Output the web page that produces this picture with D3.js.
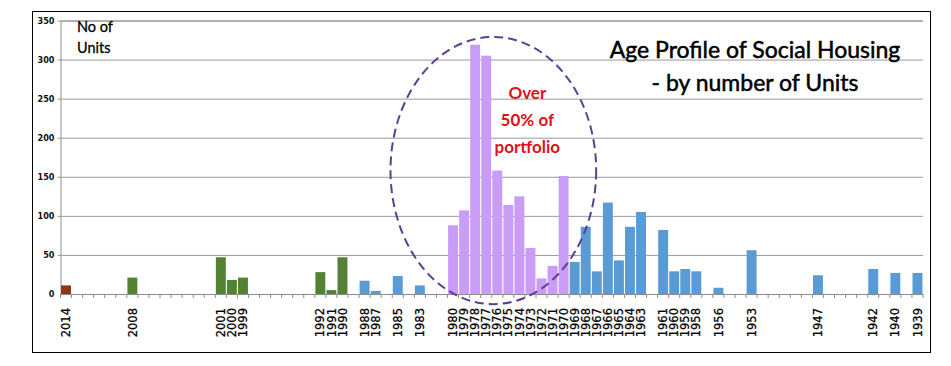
<!DOCTYPE html>
<html lang="en">
<head>
  <meta charset="UTF-8" />
  <title>Age Profile of Social Housing</title>
  <script src="https://d3js.org/d3.v7.min.js"></script>
  <style>
    * { margin: 0; padding: 0; box-sizing: border-box; }
    body { background: #fff; width: 951px; height: 366px; overflow: hidden; }
    svg { display: block; }
  </style>
</head>
<body>
  <svg id="chart" width="951" height="366"></svg>

  <script>
    // one slot per category on the axis; "" = empty category (no label, no bar)
    const slots = [
      '2014', '', '', '', '', '', '2008', '', '', '', '', '', '', '',
      '2001', '2000', '1999', '', '', '', '', '', '',
      '1992', '1991', '1990', '', '1988', '1987', '', '1985', '', '1983', '', '',
      '1980', '1979', '1978', '1977', '1976', '1975', '1974', '1973', '1972', '1971', '1970',
      '1969', '1968', '1967', '1966', '1965', '1964', '1963', '',
      '1961', '1960', '1959', '1958', '', '1956', '', '', '1953',
      '', '', '', '', '', '1947', '', '', '', '', '1942', '', '1940', '', '1939'
    ];

    const units = [
      11, 0, 0, 0, 0, 0, 21, 0, 0, 0, 0, 0, 0, 0,
      47, 18, 21, 0, 0, 0, 0, 0, 0,
      28, 5, 47, 0, 17, 4, 0, 23, 0, 11, 0, 0,
      88, 107, 319, 305, 158, 114, 125, 59, 20, 36, 151,
      41, 86, 29, 117, 43, 86, 105, 0,
      82, 29, 32, 29, 0, 8, 0, 0, 56,
      0, 0, 0, 0, 0, 24, 0, 0, 0, 0, 32, 0, 27, 0, 27
    ];

    const yTicks = [0, 50, 100, 150, 200, 250, 300, 350];
    const titleLines = ['Age Profile of Social Housing', '- by number of Units'];
    const yLabelLines = ['No of', 'Units'];
    const noteLines = ['Over', '50% of', 'portfolio'];

    const svg = d3.select('#chart');

    const x = d3.scaleBand()
      .domain(d3.range(slots.length))
      .range([60.5, 923])
      .paddingInner(0.1)
      .paddingOuter(0.05);

    const y = d3.scaleLinear().domain([0, 350]).range([294, 20.5]);

    // era colours by year
    const eraColor = d3.scaleThreshold()
      .domain([1970, 1981, 1990, 2009])
      .range(['#5b9bd5', '#c99df5', '#5b9bd5', '#548235', '#8b3a0f']);

    // outer frame
    svg.append('rect')
      .attr('x', 32.5).attr('y', 11.5)
      .attr('width', 898).attr('height', 341)
      .attr('fill', '#fff').attr('stroke', '#000').attr('stroke-width', 1);

    // gridlines + y labels
    const yAxis = d3.axisLeft(y).tickValues(yTicks).tickSize(-(923 - 60.5)).tickPadding(6);
    const gy = svg.append('g').attr('transform', 'translate(60.5,0)').call(yAxis);
    gy.select('.domain').attr('stroke', '#8c8c8c');
    gy.selectAll('.tick line').attr('stroke', '#9a9a9a').attr('x1', -3);
    gy.selectAll('.tick line').filter(d => d === 0).remove();
    gy.selectAll('.tick text')
      .attr('font-family', '"DejaVu Sans Condensed", "DejaVu Sans", sans-serif')
      .attr('font-weight', 'bold')
      .attr('font-size', 9)
      .attr('fill', '#111');

    // bars
    svg.append('g').selectAll('rect')
      .data(slots.map((s, i) => ({ i, year: +s, v: units[i] })).filter(d => d.v > 0))
      .join('rect')
      .attr('x', d => x(d.i))
      .attr('width', x.bandwidth())
      .attr('y', d => y(d.v))
      .attr('height', d => y(0) - y(d.v))
      .attr('fill', d => eraColor(d.year));

    // x axis line and tick marks between categories
    const step = x.step();
    const x0 = x.range()[0];
    const gx = svg.append('g');
    gx.append('line')
      .attr('x1', x0).attr('x2', x.range()[1])
      .attr('y1', y(0) + 0.5).attr('y2', y(0) + 0.5)
      .attr('stroke', '#8c8c8c');
    gx.selectAll('line.tk')
      .data(d3.range(slots.length + 1))
      .join('line').attr('class', 'tk')
      .attr('x1', i => x0 + i * step).attr('x2', i => x0 + i * step)
      .attr('y1', y(0)).attr('y2', y(0) + 4)
      .attr('stroke', '#8c8c8c');

    gx.selectAll('text')
      .data(slots.map((s, i) => ({ s, i })).filter(d => d.s))
      .join('text')
      .attr('transform', d => `translate(${x(d.i) + x.bandwidth() / 2},308) rotate(-90)`)
      .attr('dy', '0.36em')
      .attr('text-anchor', 'end')
      .attr('font-family', '"DejaVu Sans", Verdana, sans-serif')
      .attr('font-size', 11.5)
      .attr('fill', '#000')
      .attr('stroke', '#000')
      .attr('stroke-width', 0.25)
      .text(d => d.s);

    // dashed ellipse round the 1970s
    const iStart = slots.indexOf('1980');
    const iEnd = slots.indexOf('1970');
    const cx = x0 + (iStart + iEnd + 1) / 2 * step - 15;
    svg.append('ellipse')
      .attr('cx', cx)
      .attr('cy', y(158))
      .attr('rx', 9.3 * step)
      .attr('ry', y(0) - y(171))
      .attr('fill', 'none')
      .attr('stroke', '#5e3f8f')
      .attr('stroke-width', 2)
      .attr('stroke-dasharray', '9,5');

    // annotation
    svg.append('g').selectAll('text')
      .data(noteLines)
      .join('text')
      .attr('x', cx + 34)
      .attr('y', (d, i) => 99 + i * 27)
      .attr('text-anchor', 'middle')
      .attr('font-family', 'Lato, "Open Sans", sans-serif')
      .attr('font-weight', 'bold')
      .attr('font-size', 17)
      .attr('fill', '#e0101c')
      .text(d => d);

    // title
    svg.append('g').selectAll('text')
      .data(titleLines)
      .join('text')
      .attr('x', 755)
      .attr('y', (d, i) => 58 + i * 33)
      .attr('text-anchor', 'middle')
      .attr('font-family', 'Lato, "Open Sans", sans-serif')
      .attr('font-size', 23)
      .attr('fill', '#000')
      .attr('stroke', '#000')
      .attr('stroke-width', 0.5)
      .text(d => d);

    // axis caption
    svg.append('g').selectAll('text')
      .data(yLabelLines)
      .join('text')
      .attr('x', 77)
      .attr('y', (d, i) => 32 + i * 21)
      .attr('font-family', 'Lato, "Open Sans", sans-serif')
      .attr('font-size', 14.5)
      .attr('fill', '#000')
      .attr('stroke', '#000')
      .attr('stroke-width', 0.3)
      .text(d => d);
  </script>
</body>
</html>
